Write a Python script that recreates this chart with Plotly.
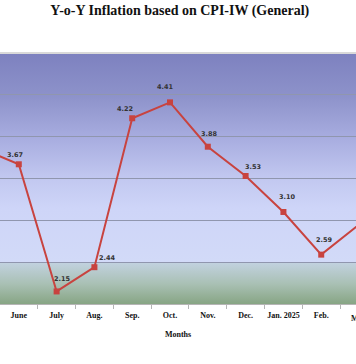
import base64
import plotly.graph_objects as go

# ---- data ----
months = ["May", "June", "July", "Aug.", "Sep.", "Oct.", "Nov.", "Dec.", "Jan. 2025", "Feb.", "Mar."]
inflation = [3.86, 3.67, 2.15, 2.44, 4.22, 4.41, 3.88, 3.53, 3.10, 2.59, 2.95]
title_text = "Y-o-Y Inflation based on CPI-IW (General)"
x_title = "Months"

# ---- label placement (style, pixel offsets of each data label) ----
label_dx = [-4, -4, 6, 13, -7, -5, 2, 7, 4, 3, 3]
label_dy = [9, 9, 12, 9, 9, 15, 13, 9, 15, 15, 15]

# visible window (category index units)
x_lo, x_hi = 0.5026, 9.92
y_lo, y_hi = 2.0, 5.0

# ---- background gradient (SVG data URI) ----
svg = """<svg xmlns='http://www.w3.org/2000/svg' width='100' height='100' preserveAspectRatio='none'>
<defs><linearGradient id='g' x1='0' y1='0' x2='0' y2='1'>
<stop offset='0' stop-color='#7d81bf'/>
<stop offset='0.17' stop-color='#8d92ca'/>
<stop offset='0.34' stop-color='#a8ade0'/>
<stop offset='0.5' stop-color='#c2c8f0'/>
<stop offset='0.62' stop-color='#ced5f8'/>
<stop offset='0.833' stop-color='#d2daf8'/>
<stop offset='0.834' stop-color='#c2d2e0'/>
<stop offset='0.92' stop-color='#a9c0b4'/>
<stop offset='1' stop-color='#87a584'/>
</linearGradient></defs>
<rect x='0' y='0' width='100' height='100' fill='url(#g)'/></svg>"""
src = "data:image/svg+xml;base64," + base64.b64encode(svg.encode()).decode()

fig = go.Figure()
fig.add_trace(go.Scatter(
    x=months, y=inflation,
    mode="lines+markers",
    line=dict(color="#c8433f", width=2),
    marker=dict(symbol="square", size=6, color="#c8433f"),
    cliponaxis=True,
    hoverinfo="skip",
    showlegend=False,
))

# data labels (hidden automatically when the point is outside the visible range)
for m, v, dx, dy in zip(months, inflation, label_dx, label_dy):
    fig.add_annotation(
        x=m, y=v, xref="x", yref="y", text=f"<b>{v:.2f}</b>", showarrow=False,
        xanchor="center", yanchor="middle", xshift=dx, yshift=dy,
        font=dict(family="DejaVu Sans", size=6.5, color="#333333"),
    )

fig.add_layout_image(dict(
    source=src, xref="paper", yref="paper", x=0, y=1, sizex=1, sizey=1,
    xanchor="left", yanchor="top", sizing="stretch", layer="below",
))

fig.add_shape(type="line", xref="paper", yref="paper", x0=0, x1=1, y0=1, y1=1,
              line=dict(color="#d9d9d9", width=2))

# last (partly visible) category label
fig.add_annotation(
    xref="paper", yref="paper",
    x=(months.index("Mar.") - x_lo) / (x_hi - x_lo), y=0,
    xanchor="center", yanchor="top", yshift=-8,
    text="<b>Mar.</b>", showarrow=False,
    font=dict(family="Liberation Serif", size=8, color="#111111"),
)

fig.update_layout(
    template="none",
    width=356, height=364,
    margin=dict(l=0, r=0, t=53, b=60, autoexpand=False),
    paper_bgcolor="white",
    plot_bgcolor="rgba(0,0,0,0)",
    title=dict(text=f"<b>{title_text}</b>", x=0.505, xanchor="center", y=0.985, yanchor="top",
               font=dict(family="Liberation Serif", size=14, color="#111111")),
    xaxis=dict(
        type="category", categoryorder="array", categoryarray=months,
        range=[x_lo, x_hi], showgrid=False, zeroline=False, automargin=False,
        showline=True, linecolor="#b5b5b5", linewidth=1, tickangle=0,
        ticks="outside", ticklen=4, tickcolor="#b5b5b5", tickson="boundaries",
        ticklabelstandoff=3,
        tickfont=dict(family="Liberation Serif", size=8, color="#111111", weight="bold"),
        title=dict(text=f"<b>{x_title}</b>", standoff=12,
                   font=dict(family="Liberation Serif", size=8, color="#111111")),
        fixedrange=True,
    ),
    yaxis=dict(
        range=[y_lo, y_hi], dtick=0.5, showgrid=True, gridcolor="#9096ae", gridwidth=1,
        zeroline=False, showticklabels=False, showline=False, fixedrange=True, automargin=False,
    ),
)

fig.write_html("out.html", config={"displayModeBar": False, "staticPlot": True},
               post_script="document.body.style.margin='0';")
